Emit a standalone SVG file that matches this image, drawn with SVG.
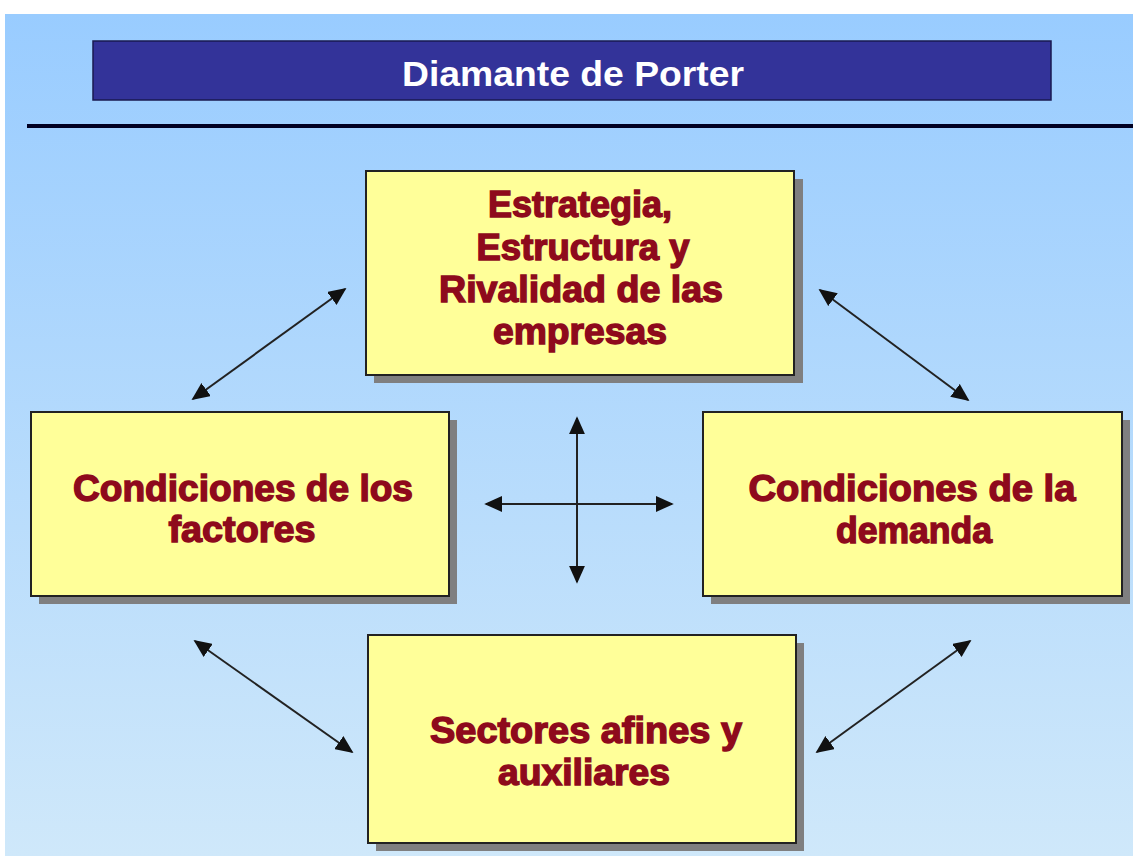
<svg xmlns="http://www.w3.org/2000/svg" width="1133" height="856" viewBox="0 0 1133 856">
<defs>
<linearGradient id="bg" x1="0" y1="0" x2="0" y2="1">
<stop offset="0" stop-color="#99CCFF"/>
<stop offset="1" stop-color="#CFE8FA"/>
</linearGradient>
<marker id="ah" viewBox="0 0 10 10" refX="9" refY="5" markerWidth="18" markerHeight="16" markerUnits="userSpaceOnUse" orient="auto-start-reverse" preserveAspectRatio="none">
<path d="M0,0 L10,5 L0,10 z" fill="#111"/>
</marker>
<style>
.box{fill:#FFFF99;stroke:#222;stroke-width:2}
.sh{fill:#7f7f80}
.t{font-family:"Liberation Sans",Arial,sans-serif;font-weight:bold;font-size:36px;fill:#8E0A1C;stroke:#8E0A1C;stroke-width:1.4;text-anchor:middle}
.c{stroke:#222;stroke-width:2;fill:none;marker-start:url(#ah);marker-end:url(#ah)}
</style>
</defs>
<rect width="1133" height="856" fill="#fff"/>
<rect x="5" y="14" width="1128" height="842" fill="url(#bg)"/>
<g id="title">
<rect x="93" y="41" width="958" height="59" fill="#333399" stroke="#1a1a50" stroke-width="1.5"/>
<text x="573" y="86" font-family="Liberation Sans,Arial,sans-serif" font-weight="bold" font-size="35" fill="#fff" text-anchor="middle" textLength="342" lengthAdjust="spacingAndGlyphs">Diamante de Porter</text>
</g>
<rect x="27" y="124" width="1106" height="4" fill="#000022"/>
<g id="connectors">
<line class="c" x1="193" y1="399" x2="345" y2="289"/>
<line class="c" x1="820" y1="290" x2="968" y2="400"/>
<line class="c" x1="195" y1="641" x2="352" y2="752"/>
<line class="c" x1="970" y1="641" x2="817" y2="752"/>
<line class="c" x1="577" y1="418" x2="577" y2="582"/>
<line class="c" x1="486" y1="504" x2="672" y2="504"/>
</g>
<g id="n-top">
<rect class="sh" x="374" y="179" width="429" height="204"/>
<rect class="box" x="366" y="171" width="428" height="204"/>
<text class="t" x="580" y="217" textLength="184" lengthAdjust="spacingAndGlyphs">Estrategia,</text>
<text class="t" x="583" y="260" textLength="213" lengthAdjust="spacingAndGlyphs">Estructura y</text>
<text class="t" x="581" y="302" textLength="284" lengthAdjust="spacingAndGlyphs">Rivalidad de las</text>
<text class="t" x="580" y="344" textLength="174" lengthAdjust="spacingAndGlyphs">empresas</text>
</g>
<g id="n-left">
<rect class="sh" x="39" y="420" width="418" height="184"/>
<rect class="box" x="31" y="412" width="418" height="184"/>
<text class="t" x="243" y="501" textLength="340" lengthAdjust="spacingAndGlyphs">Condiciones de los</text>
<text class="t" x="242" y="542" textLength="147" lengthAdjust="spacingAndGlyphs">factores</text>
</g>
<g id="n-right">
<rect class="sh" x="711" y="420" width="419" height="184"/>
<rect class="box" x="703" y="412" width="419" height="184"/>
<text class="t" x="912" y="501" textLength="327" lengthAdjust="spacingAndGlyphs">Condiciones de la</text>
<text class="t" x="914" y="543" textLength="156" lengthAdjust="spacingAndGlyphs">demanda</text>
</g>
<g id="n-bottom">
<rect class="sh" x="376" y="643" width="428" height="208"/>
<rect class="box" x="368" y="635" width="428" height="208"/>
<text class="t" x="586" y="743" textLength="312" lengthAdjust="spacingAndGlyphs">Sectores afines y</text>
<text class="t" x="584" y="785" textLength="172" lengthAdjust="spacingAndGlyphs">auxiliares</text>
</g>
</svg>
